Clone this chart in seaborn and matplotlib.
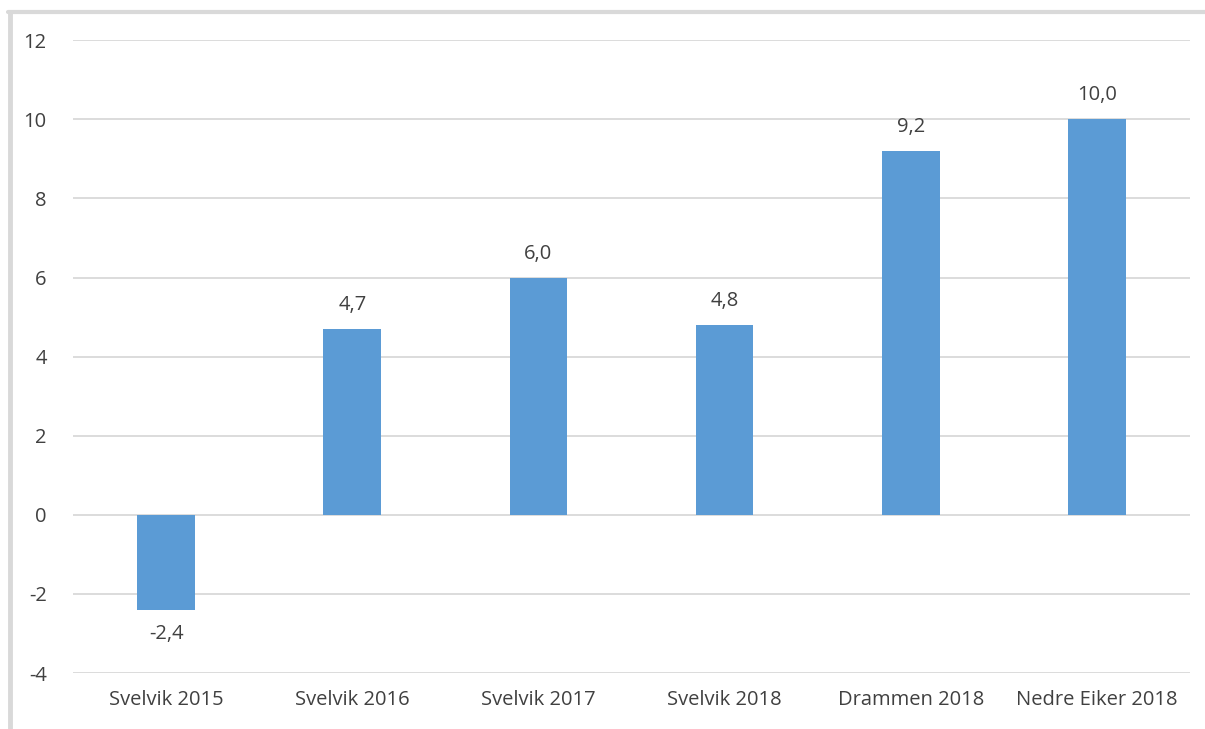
import matplotlib
matplotlib.use("Agg")
import matplotlib.pyplot as plt
import seaborn as sns
import pandas as pd
from matplotlib.lines import Line2D

# Data
categories = ["Svelvik 2015", "Svelvik 2016", "Svelvik 2017", "Svelvik 2018",
              "Drammen 2018", "Nedre Eiker 2018"]
values = [-2.4, 4.7, 6.0, 4.8, 9.2, 10.0]
y_ticks = [-4, -2, 0, 2, 4, 6, 8, 10, 12]

BAR_COLOR = "#5B9BD5"
TEXT_COLOR = "#404040"
GRID_COLOR = "#D9D9D9"
FONT_SIZE = 14.5

sns.set_theme(style="white")
plt.rcParams["font.family"] = ["Open Sans", "DejaVu Sans"]

df = pd.DataFrame({"kategori": categories, "verdi": values})

fig = plt.figure(figsize=(12.05, 7.29), dpi=100)
ax = fig.add_axes([0.0606, 0.0768, 0.927, 0.868])

sns.barplot(data=df, x="kategori", y="verdi", color=BAR_COLOR, width=0.31,
            saturation=1, linewidth=0, ax=ax, zorder=3)

ax.set_ylim(-4, 12)
ax.set_yticks(y_ticks)
ax.set_yticklabels([str(t) for t in y_ticks])
ax.set_xlim(-0.5, len(categories) - 0.5)
ax.set_xlabel("")
ax.set_ylabel("")

ax.yaxis.grid(True, color=GRID_COLOR, linewidth=1.3, zorder=0)
ax.xaxis.grid(False)
for s in ax.spines.values():
    s.set_visible(False)
ax.tick_params(axis="both", length=0, labelsize=FONT_SIZE, colors=TEXT_COLOR)
ax.tick_params(axis="y", pad=19)
ax.tick_params(axis="x", pad=12)

# value labels with comma decimals
labels = [f"{v:.1f}".replace(".", ",") for v in values]
ax.bar_label(ax.containers[0], labels=labels, padding=10, fontsize=FONT_SIZE,
             color=TEXT_COLOR)

# light grey frame at left and top
fig.add_artist(Line2D([0.0083, 0.0083], [0.0, 0.984], transform=fig.transFigure,
                      color=GRID_COLOR, linewidth=3.5))
fig.add_artist(Line2D([0.0066, 1.0], [0.984, 0.984], transform=fig.transFigure,
                      color=GRID_COLOR, linewidth=3.0))

fig.savefig("out.png", dpi=100)
